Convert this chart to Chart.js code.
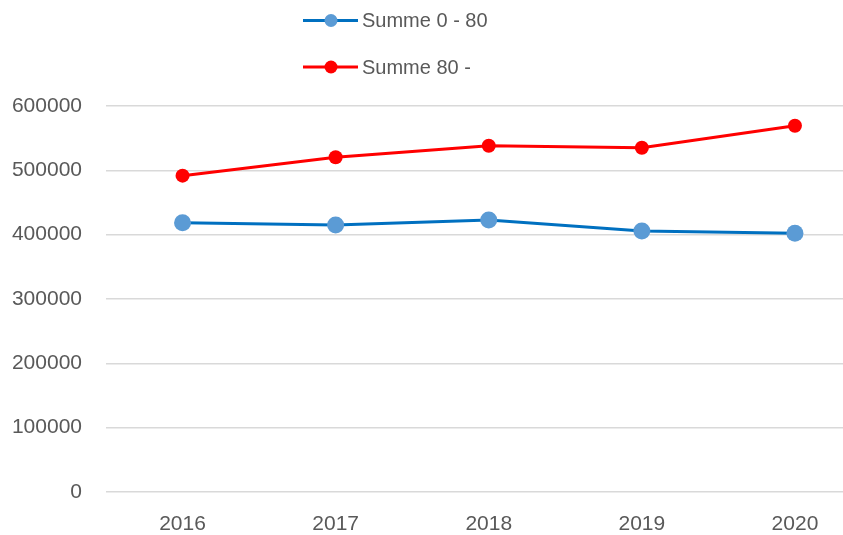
<!DOCTYPE html>
<html><head><meta charset="utf-8">
<script src="https://cdn.jsdelivr.net/npm/chart.js@4/dist/chart.umd.min.js"></script>
<style>
html,body{margin:0;padding:0;background:#fff;overflow:hidden;}
#wrap{position:relative;width:880px;height:535px;}
</style></head><body>
<div id="wrap"><canvas id="c"></canvas></div>
<script>
const categories = ['2016','2017','2018','2019','2020'];
const seriesNames = ['Summe 0 - 80','Summe 80 -'];
const sum0to80 = [418600, 415000, 422800, 405700, 402100];
const sum80plus = [491700, 520300, 538300, 535200, 569400];
const yTicks = [0,100000,200000,300000,400000,500000,600000];

const FONT = '"Liberation Sans", Arial, sans-serif';
const legendPlugin = {
  id:'customLegend',
  afterDraw(chart){
    const ctx = chart.ctx;
    const rows = [20.5, 67];
    chart.data.datasets.forEach((ds,i)=>{
      const y = rows[i];
      ctx.save();
      ctx.strokeStyle = ds.borderColor;
      ctx.lineWidth = 3;
      ctx.beginPath(); ctx.moveTo(303,y); ctx.lineTo(358,y); ctx.stroke();
      ctx.fillStyle = ds.pointBackgroundColor;
      ctx.beginPath(); ctx.arc(331,y,6.5,0,Math.PI*2); ctx.fill();
      ctx.fillStyle = '#595959';
      ctx.font = '20px ' + FONT;
      ctx.textBaseline = 'middle';
      ctx.textAlign = 'left';
      ctx.fillText(ds.label, 362, y+1);
      ctx.restore();
    });
  }
};

new Chart(document.getElementById('c'), {
  type:'line',
  data:{
    labels: categories,
    datasets:[
      {label: seriesNames[0], data: sum0to80, borderColor:'#0070C0', backgroundColor:'#5B9BD5',
       pointBackgroundColor:'#5B9BD5', pointBorderColor:'#5B9BD5', pointRadius:8.5, pointBorderWidth:0,
       borderWidth:3, tension:0},
      {label: seriesNames[1], data: sum80plus, borderColor:'#FF0000', backgroundColor:'#FF0000',
       pointBackgroundColor:'#FF0000', pointBorderColor:'#FF0000', pointRadius:7, pointBorderWidth:0,
       borderWidth:3, tension:0}
    ]
  },
  options:{
    responsive:true, maintainAspectRatio:false, animation:false,
    layout:{padding:{top:106, left:0, right:3, bottom:0}},
    plugins:{legend:{display:false}, tooltip:{enabled:false}},
    scales:{
      x:{
        offset:true,
        afterFit(scale){ scale.height = 43; },
        grid:{display:false}, border:{display:false},
        ticks:{color:'#595959', font:{family:FONT, size:21}, padding:12, maxRotation:0}
      },
      y:{
        min:0, max:600000,
        afterFit(scale){ scale.width = 106; },
        afterBuildTicks(scale){ scale.ticks = yTicks.map(v=>({value:v})); },
        grid:{color:'#D9D9D9', lineWidth:1.5, drawTicks:false}, border:{display:false},
        ticks:{color:'#595959', font:{family:FONT, size:21}, padding:24, callback:v=>String(v)}
      }
    }
  },
  plugins:[legendPlugin]
});
</script>
</body></html>
